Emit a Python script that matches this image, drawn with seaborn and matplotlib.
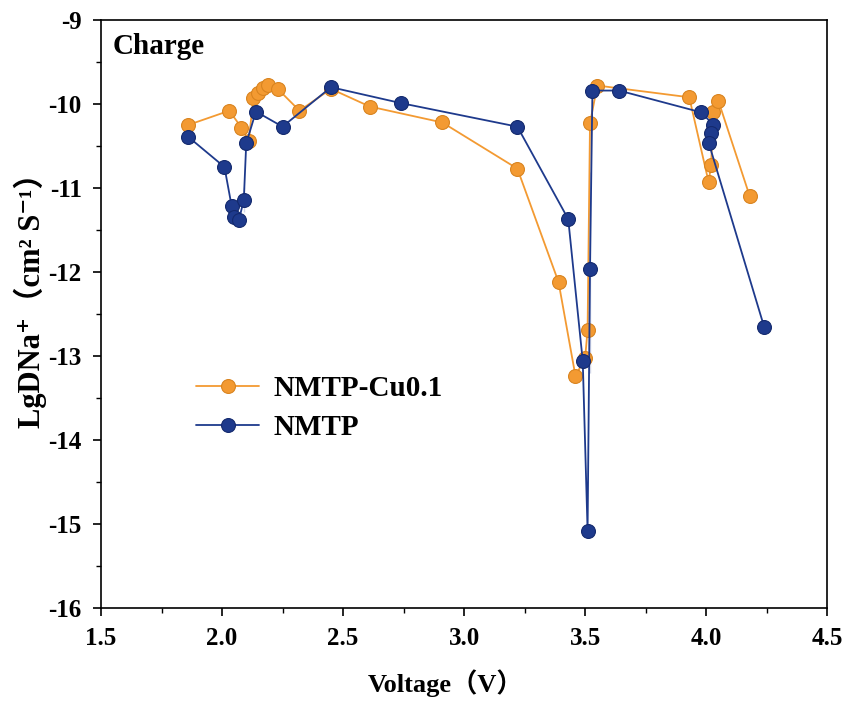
import matplotlib
matplotlib.use("Agg")
import matplotlib.pyplot as plt
import seaborn as sns
import pandas as pd
from matplotlib.ticker import MultipleLocator

# values
cu_voltage = [1.86, 2.03, 2.08, 2.11, 2.13, 2.15, 2.17, 2.19, 2.23, 2.32, 2.45,
              2.61, 2.91, 3.22, 3.39, 3.46, 3.50, 3.51, 3.51, 3.52, 3.55,
              3.93, 4.01, 4.02, 4.03, 4.05, 4.18]
cu_lgd = [-10.25, -10.08, -10.28, -10.44, -9.93, -9.87, -9.81, -9.77, -9.82, -10.08, -9.82,
          -10.03, -10.22, -10.77, -12.12, -13.24, -13.02, -12.92, -12.46, -10.23, -9.78,
          -9.92, -10.93, -10.73, -10.10, -9.96, -11.10]

nmtp_voltage = [1.86, 2.01, 2.04, 2.05, 2.07, 2.09, 2.09, 2.10, 2.14, 2.25, 2.45,
                2.74, 3.22, 3.43, 3.49, 3.51, 3.52, 3.52, 3.52, 3.53, 3.64,
                3.98, 4.03, 4.02, 4.01, 4.24]
nmtp_lgd = [-10.39, -10.75, -11.22, -11.34, -11.38, -11.29, -10.99, -10.47, -10.09, -10.27, -9.80,
            -9.99, -10.27, -11.37, -13.06, -15.08, -13.20, -11.87, -10.81, -9.84, -9.84,
            -10.10, -10.25, -10.34, -10.46, -12.66]

series_names = ["NMTP-Cu0.1", "NMTP"]
series_colors = ["#F39A32", "#1E3A8C"]
edge_colors = ["#D98420", "#142A6E"]

sns.set_style("white")
serif = ["Liberation Serif", "DejaVu Serif", "Noto Sans CJK SC"]
plt.rcParams["font.family"] = serif
plt.rcParams["font.weight"] = "bold"
plt.rcParams["text.color"] = "black"
plt.rcParams["axes.labelcolor"] = "black"
plt.rcParams["xtick.color"] = "black"
plt.rcParams["ytick.color"] = "black"

fig = plt.figure(figsize=(8.45, 7.02), dpi=100)
ax = fig.add_axes([0.1195, 0.134, 0.8595, 0.8375])

data = [(cu_voltage, cu_lgd), (nmtp_voltage, nmtp_lgd)]
for (vx, vy), name, col, ec in zip(data, series_names, series_colors, edge_colors):
    df = pd.DataFrame({"Voltage": vx, "LgD": vy})
    sns.lineplot(data=df, x="Voltage", y="LgD", sort=False, ax=ax, color=col,
                 linewidth=1.3, marker="o", markersize=10, markeredgecolor=ec,
                 markeredgewidth=0.8, label=name)

ax.set_xlim(1.5, 4.5)
ax.set_ylim(-16, -9)
ax.xaxis.set_major_locator(MultipleLocator(0.5))
ax.xaxis.set_minor_locator(MultipleLocator(0.25))
ax.yaxis.set_major_locator(MultipleLocator(1))
ax.yaxis.set_minor_locator(MultipleLocator(0.5))
ax.tick_params(which="major", direction="out", length=6, width=1.2,
               labelsize=18, bottom=True, left=True, top=False, right=False)
ax.tick_params(which="minor", direction="out", length=3.5, width=1.0,
               bottom=True, left=True, top=False, right=False)
ax.tick_params(axis="x", pad=8)
ax.tick_params(axis="y", pad=8)
for lab in ax.get_xticklabels() + ax.get_yticklabels():
    lab.set_fontweight("bold")
ax.xaxis.set_major_formatter(matplotlib.ticker.FormatStrFormatter("%.1f"))
ax.yaxis.set_major_formatter(matplotlib.ticker.FuncFormatter(lambda v, p: "%d" % v))

for sp in ax.spines.values():
    sp.set_color("black")
    sp.set_linewidth(1.2)

ax.set_xlabel("Voltage（V）", fontsize=19, fontweight="bold")
ax.xaxis.set_label_coords(0.475, -0.105)
ax.set_ylabel("LgDNa⁺（cm² S⁻¹）", fontsize=22, fontweight="bold")
ax.yaxis.set_label_coords(-0.075, 0.535)

ax.text(0.016, 0.978, "Charge", transform=ax.transAxes, fontsize=21,
        fontweight="bold", va="top", ha="left")

leg = ax.legend(loc="upper left", bbox_to_anchor=(0.095, 0.44), frameon=False,
                handlelength=2.15, handletextpad=0.5, labelspacing=0.4,
                prop={"size": 21, "weight": "bold", "family": serif})

plt.savefig("out.png", dpi=100)
